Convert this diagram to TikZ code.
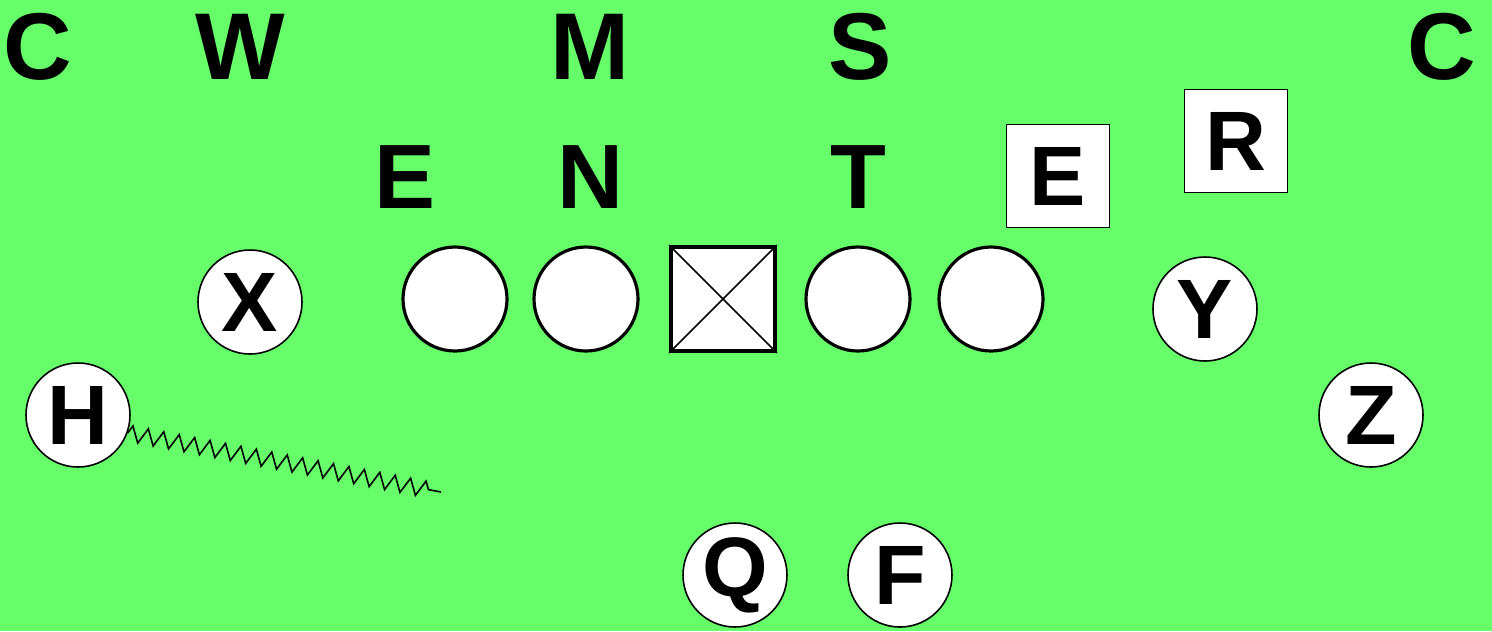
\documentclass[tikz,border=0pt]{standalone}
\usepackage{fontspec}
\setmainfont{Liberation Sans}
\usetikzlibrary{decorations.pathmorphing}
\definecolor{fieldgreen}{RGB}{102,255,106}

\begin{document}
\begin{tikzpicture}[
    defense/.style={font=\fontsize{27}{30}\selectfont\bfseries, inner sep=0pt},
    lineback/.style={font=\fontsize{26}{28}\selectfont\bfseries, inner sep=0pt},
    player/.style={circle, draw, fill=white, minimum size=1.04cm, inner sep=0pt, line width=0.45pt, font=\fontsize{24}{26}\selectfont\bfseries},
    lineman/.style={circle, draw, fill=white, minimum size=1.04cm, inner sep=0pt, line width=0.9pt},
    rusher/.style={rectangle, draw, fill=white, minimum size=1.03cm, inner sep=0pt, line width=0.45pt, font=\fontsize{24}{26}\selectfont\bfseries},
    motion/.style={line width=0.45pt, decorate, decoration={zigzag, segment length=0.157cm, amplitude=0.08cm, post length=0.05cm}}
]
    % Field
    \fill[fieldgreen] (0,0) rectangle (14.92,-6.31);

    % Secondary and linebackers
    \node[defense] (cbL) at (0.38,-0.47) {C};
    \node[defense] (will) at (2.40,-0.47) {W};
    \node[defense] (mike) at (5.90,-0.47) {M};
    \node[defense] (sam) at (8.60,-0.47) {S};
    \node[defense] (cbR) at (14.42,-0.47) {C};

    % Defensive front
    \node[lineback] (endL) at (4.05,-1.77) {E};
    \node[lineback] (nose) at (5.90,-1.77) {N};
    \node[lineback] (tackle) at (8.58,-1.77) {T};
    \node[rusher] (endR) at (10.58,-1.76) {E};
    \node[rusher] (rover) at (12.36,-1.41) {R};

    % Offensive line
    \node[lineman] (lt) at (4.55,-2.99) {};
    \node[lineman] (lg) at (5.86,-2.99) {};
    \node[rectangle, draw, fill=white, minimum size=1.04cm, inner sep=0pt, line width=1.1pt] (ctr) at (7.23,-2.99) {};
    \draw[line width=0.45pt] (ctr.north west) -- (ctr.south east);
    \draw[line width=0.45pt] (ctr.north east) -- (ctr.south west);
    \node[lineman] (rg) at (8.58,-2.99) {};
    \node[lineman] (rt) at (9.91,-2.99) {};

    % Skill players
    \node[player] (xrec) at (2.50,-3.02) {X};
    \node[player] (yrec) at (12.05,-3.09) {Y};
    \node[player] (hback) at (0.78,-4.15) {H};
    \node[player] (zrec) at (13.71,-4.15) {Z};
    \node[player] (qb) at (7.35,-5.75) {Q};
    \node[player] (fb) at (9.00,-5.75) {F};

    % Motion
    \coordinate (hend) at (4.41,-4.92);
    \draw[motion] (hback.-20) -- (hend);

\end{tikzpicture}
\end{document}
